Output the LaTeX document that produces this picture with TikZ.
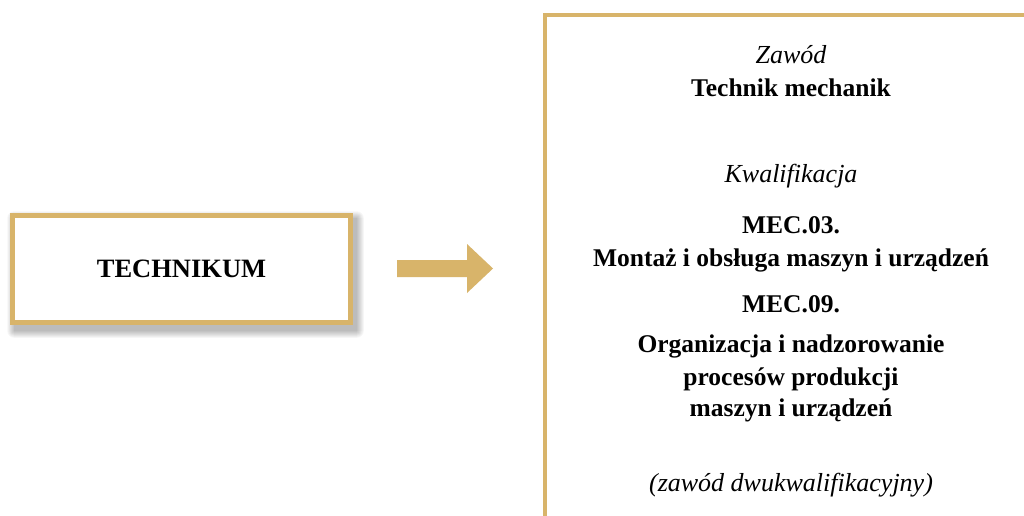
\documentclass[tikz,border=0pt]{standalone}
\usepackage{fontspec}
\setmainfont{Liberation Serif}
\usetikzlibrary{backgrounds}
\definecolor{gold}{RGB}{216,180,106}
\tikzset{
  goldbox/.style={draw=gold, line width=4.5pt, fill=white},
  boldline/.style={anchor=base, font=\fontsize{25.5}{30}\selectfont\bfseries, inner sep=0pt},
  itline/.style={anchor=base, font=\fontsize{26}{30}\selectfont\itshape, inner sep=0pt}
}

\begin{document}
\begin{tikzpicture}[x=1pt, y=-1pt]
\clip (0,0) rectangle (1024,515);
\begin{scope}[on background layer]
\fill[white] (0,0) rectangle (1024,515);
\end{scope}

% left box
\node[goldbox, minimum width=338pt, minimum height=107pt,
      font=\fontsize{26.5}{30}\selectfont\bfseries]
      (school) at (181.5,269) {\raisebox{-2pt}{TECHNIKUM}};

% soft shadow under the left box
\begin{scope}[on background layer]
\foreach \b in {0,...,7}
  \fill[black, opacity=0.035, rounded corners=\b pt]
    ([shift={(4-\b,5-\b)}]school.north west) rectangle ([shift={(4+\b,6+\b)}]school.south east);
\end{scope}

% block arrow
\fill[gold] (397,260) -- (467,260) -- (467,244) -- (493,268.5)
            -- (467,293) -- (467,277) -- (397,277) -- cycle;

% right box (runs off the page)
\draw[gold, line width=4.5pt] (545,600) -- (545,15) -- (1100,15);

\node[itline]   (job)      at (791,63)  {Zawód};
\node[boldline] (jobname)  at (791,96)  {Technik mechanik};
\node[itline]   (qual)     at (791,182) {Kwalifikacja};
\node[boldline] (mecA)     at (791,233) {MEC.03.};
\node[boldline] (mecAname) at (791,266) {Montaż i obsługa maszyn i urządzeń};
\node[boldline] (mecB)     at (791,312) {MEC.09.};
\node[boldline] (mecBone)  at (791,352) {Organizacja i nadzorowanie};
\node[boldline] (mecBtwo)  at (791,385) {procesów produkcji};
\node[boldline] (mecBthree) at (791,416) {maszyn i urządzeń};
\node[itline]   (note)     at (791,491) {(zawód dwukwalifikacyjny)};
\end{tikzpicture}
\end{document}
